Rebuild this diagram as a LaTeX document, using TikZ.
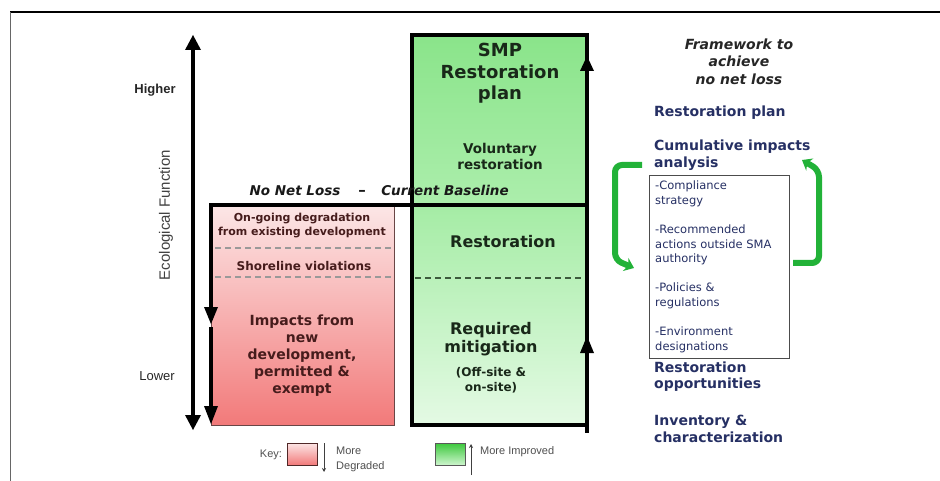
\documentclass[tikz,border=0pt]{standalone}
\usepackage{fontspec}
\setmainfont{DejaVu Sans}
\newfontfamily\arialf{Liberation Sans}
\usetikzlibrary{arrows.meta}
\definecolor{navy}{RGB}{38,48,100}
\definecolor{pinktop}{RGB}{252,230,230}
\definecolor{pinkbot}{RGB}{242,122,122}
\definecolor{gupTop}{RGB}{138,228,138}
\definecolor{gupBot}{RGB}{172,238,172}
\definecolor{gloTop}{RGB}{165,236,165}
\definecolor{gloBot}{RGB}{228,250,228}
\definecolor{redtext}{RGB}{70,28,28}
\definecolor{greentext}{RGB}{25,40,25}
\definecolor{arrowgreen}{RGB}{34,178,56}
\definecolor{keygray}{RGB}{80,80,80}
\tikzset{
  redtxt/.style={text=redtext, align=center, inner sep=0pt},
  greentxt/.style={text=greentext, align=center, inner sep=0pt},
  navytxt/.style={text=navy, align=left, inner sep=0pt, anchor=west},
  boxtxt/.style={text=navy, align=left, inner sep=0pt, anchor=west, font=\fontsize{11.5}{14.7}\selectfont},
  keytxt/.style={text=keygray, inner sep=0pt, font=\arialf\fontsize{11}{13}\selectfont},
  basetxt/.style={text=black!90, inner sep=0pt, anchor=base, font=\bfseries\itshape\fontsize{13.5}{16}\selectfont},
  headfill/.style={fill=black},
  greenloop/.style={draw=arrowgreen, line width=6pt, rounded corners=7pt, -{Stealth[length=9pt,width=14pt]}},
  sepline/.style={dash pattern=on 6pt off 4pt, line width=1.2pt},
}
\begin{document}
\begin{tikzpicture}[x=1pt,y=-1pt]
\useasboundingbox (0,0) rectangle (940,481);
\fill[white] (0,0) rectangle (940,481);
% outer frame
\draw[line width=1.2pt, black] (10,12) -- (940,12);
\draw[line width=1pt, black!60] (10,12) -- (10,481);

% axis
\coordinate (axT) at (193,46);
\coordinate (axB) at (193,419);
\draw[line width=4.5pt] (axT) -- (axB);
\fill[headfill] (193,35) -- (201,50) -- (185,50) -- cycle;
\fill[headfill] (193,430) -- (201,415) -- (185,415) -- cycle;
\node[font=\arialf\bfseries\fontsize{13}{15}\selectfont, text=black!85, inner sep=0pt] (higher) at (155,90) {Higher};
\node[font=\arialf\fontsize{13}{15}\selectfont, text=black!85, inner sep=0pt] (lower) at (157,376) {Lower};
\node[rotate=90, font=\arialf\fontsize{15}{18}\selectfont, text=black!75, inner sep=0pt] (ecof) at (166,215) {Ecological Function};

% red box
\shade[top color=pinktop, bottom color=pinkbot] (211,206) rectangle (394,425);
\draw[line width=0.9pt, draw={rgb,255:red,105;green,70;blue,70}] (211,206) rectangle (394,425);
\draw[sepline, draw=black!40] (215,248) -- (392,248);
\draw[sepline, draw=black!40] (215,277) -- (392,277);
\coordinate (ra1) at (211,207);
\coordinate (ra2) at (211,311);
\coordinate (ra3) at (211,327);
\coordinate (ra4) at (211,410);
\draw[line width=3.5pt] (ra1) -- (ra2);
\draw[line width=3.5pt] (ra3) -- (ra4);
\fill[headfill] (211,324) -- (218,307) -- (204,307) -- cycle;
\fill[headfill] (211,424) -- (218,406) -- (204,406) -- cycle;

\node[redtxt, font=\bfseries\fontsize{11}{14}\selectfont] (ongoing) at (302,226) {On-going degradation\\from existing development};
\node[redtxt, font=\bfseries\fontsize{12}{14}\selectfont] (shore) at (304,266) {Shoreline violations};
\node[redtxt, font=\bfseries\fontsize{14}{17}\selectfont] (impacts) at (302,356) {Impacts from\\new\\development,\\permitted \&\\exempt};

% green box
\shade[top color=gupTop, bottom color=gupBot] (412,35) rectangle (587,206);
\shade[top color=gloTop, bottom color=gloBot] (412,206) rectangle (587,425);
\draw[sepline, draw={rgb,255:red,60;green,90;blue,60}] (415,278) -- (584,278);
\draw[line width=4pt] (412,35) rectangle (587,425);
\draw[line width=4pt] (587,423) -- (587,433);
\coordinate (bl1) at (209,205);
\coordinate (bl2) at (589,205);
\draw[line width=4pt] (bl1) -- (bl2);
\fill[headfill] (587,336) -- (594,353) -- (580,353) -- cycle;
\fill[headfill] (587,56) -- (594,71) -- (580,71) -- cycle;

\node[greentxt, font=\bfseries\fontsize{18}{21.5}\selectfont] (smp) at (500,73.5) {SMP\\Restoration\\plan};
\node[greentxt, font=\bfseries\fontsize{13.5}{16}\selectfont] (volu) at (500,156) {Voluntary\\restoration};
\node[greentxt, font=\bfseries\fontsize{16}{19}\selectfont] (resto) at (503,242) {Restoration};
\node[greentxt, font=\bfseries\fontsize{16}{18.5}\selectfont] (reqm) at (491,339) {Required\\mitigation};
\node[greentxt, font=\bfseries\fontsize{12}{14.5}\selectfont] (offs) at (491,380) {(Off-site \&\\on-site)};

% baseline label
\node[basetxt] (nnl) at (295,196) {No Net Loss};
\node[basetxt, font=\bfseries\fontsize{15}{16}\selectfont] (dash) at (362,196) {–};
\node[basetxt] (cb) at (445,196) {Current Baseline};

% right column
\node[font=\bfseries\itshape\fontsize{14}{17.5}\selectfont, text=black!85, align=center, inner sep=0pt] (frame) at (739,61.5) {Framework to\\achieve\\no net loss};
\node[navytxt, font=\bfseries\fontsize{14}{16.5}\selectfont] (rplan) at (654,113) {Restoration plan};
\node[navytxt, font=\bfseries\fontsize{14}{16.5}\selectfont] (cia) at (654,155) {Cumulative impacts\\analysis};
\draw[line width=0.9pt, draw=black!70] (649,175) rectangle (789,358);
\node[boxtxt] (i1) at (655,194) {-Compliance\\strategy};
\node[boxtxt] (i2) at (655,245) {-Recommended\\actions outside SMA\\authority};
\node[boxtxt] (i3) at (655,295.5) {-Policies \&\\regulations};
\node[boxtxt] (i4) at (655,340) {-Environment\\designations};
\node[navytxt, font=\bfseries\fontsize{14}{16.5}\selectfont] (ropp) at (654,376.5) {Restoration\\opportunities};
\node[navytxt, font=\bfseries\fontsize{14}{16.5}\selectfont] (inv) at (654,429) {Inventory \&\\characterization};

% green loop arrows
\coordinate (gl1) at (642,165);
\coordinate (gl2) at (615,165);
\coordinate (gl3) at (615,260);
\coordinate (gl4) at (634,268);
\draw[greenloop] (gl1) -- (gl2) -- (gl3) -- (gl4);
\coordinate (gr1) at (793,263);
\coordinate (gr2) at (819,263);
\coordinate (gr3) at (819,170);
\coordinate (gr4) at (802,160);
\draw[greenloop] (gr1) -- (gr2) -- (gr3) -- (gr4);

% key
\node[keytxt] (key) at (271,455) {Key:};
\shade[top color=pinktop, bottom color=pinkbot] (287,443) rectangle (317,465);
\draw[line width=0.8pt, draw={rgb,255:red,80;green,40;blue,40}] (287,443) rectangle (317,465);
\coordinate (kd1) at (324,443);
\coordinate (kd2) at (324,472);
\draw[line width=1pt, draw=black!75, -{Stealth[length=4pt,width=4pt]}] (kd1) -- (kd2);
\node[keytxt, anchor=west, align=left, font=\arialf\fontsize{11}{15}\selectfont] (kmd) at (336,459.5) {More\\Degraded};
\shade[top color={rgb,255:red,60;green,200;blue,60}, bottom color={rgb,255:red,205;green,245;blue,205}] (435,443) rectangle (465,465);
\draw[line width=0.8pt, draw=black!65] (435,443) rectangle (465,465);
\coordinate (ku1) at (471,475);
\coordinate (ku2) at (471,444);
\draw[line width=1pt, draw=black!75, -{Stealth[length=4pt,width=4pt]}] (ku1) -- (ku2);
\node[keytxt, anchor=west] (kmi) at (480,452) {More Improved};
\end{tikzpicture}
\end{document}
